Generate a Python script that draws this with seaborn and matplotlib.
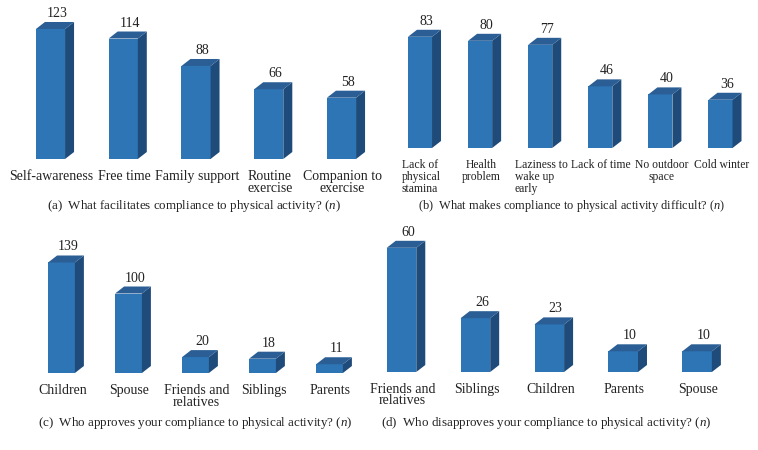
import matplotlib
matplotlib.use('Agg')
import matplotlib.pyplot as plt
from matplotlib.patches import Polygon
from matplotlib.transforms import IdentityTransform
import seaborn as sns
import pandas as pd

sns.set_style('white')
plt.rcParams['font.family'] = ['Liberation Serif', 'DejaVu Serif']
plt.rcParams['mathtext.fontset'] = 'custom'
plt.rcParams['mathtext.rm'] = 'Liberation Serif'
plt.rcParams['mathtext.it'] = 'Liberation Serif:italic'

# data
cats_a = ['Self-awareness', 'Free time', 'Family support', 'Routine\nexercise', 'Companion to\nexercise']
vals_a = [123, 114, 88, 66, 58]

cats_b = ['Lack of\nphysical\nstamina', 'Health\nproblem', 'Laziness to\nwake up\nearly',
          'Lack of time', 'No outdoor\nspace', 'Cold winter']
vals_b = [83, 80, 77, 46, 40, 36]

cats_c = ['Children', 'Spouse', 'Friends and\nrelatives', 'Siblings', 'Parents']
vals_c = [139, 100, 20, 18, 11]

cats_d = ['Friends and\nrelatives', 'Siblings', 'Children', 'Parents', 'Spouse']
vals_d = [60, 26, 23, 10, 10]

captions = [
    '(a)  What facilitates compliance to physical activity? ($n$)',
    '(b)  What makes compliance to physical activity difficult? ($n$)',
    '(c)  Who approves your compliance to physical activity? ($n$)',
    '(d)  Who disapproves your compliance to physical activity? ($n$)',
]

W, H = 758, 450
FRONT = '#2E75B6'
TOP = '#2A5E95'
SIDE = '#1F4B7A'
TXT = '#222222'
DX, DY = 9, 7

fig = plt.figure(figsize=(W / 100, H / 100), dpi=100)


def panel(cats, vals, c0, step, base, scale, width, label_gap, caption, cap_xy,
          label_fs=10, label_ls=0.85, cap_fs=9.4, left_align=()):
    n = len(cats)
    ymax = max(vals)
    ax = fig.add_axes([(c0 - step / 2) / W, (H - base) / H, step * n / W, ymax * scale / H])
    df = pd.DataFrame({'cat': range(n), 'val': vals})
    sns.barplot(data=df, x='cat', y='val', ax=ax, color=FRONT, saturation=1,
                width=width, edgecolor='none', linewidth=0)
    ax.set_xlim(-0.5, n - 0.5)
    ax.set_ylim(0, ymax)
    ax.axis('off')

    for i, p in enumerate(ax.patches):
        x0, x1, h = p.get_x(), p.get_x() + p.get_width(), p.get_height()
        (X0, Y0), (X1, Y1) = ax.transData.transform([(x0, 0), (x1, h)])
        side = Polygon([(X1, Y0), (X1 + DX, Y0 + DY), (X1 + DX, Y1 + DY), (X1, Y1)],
                       closed=True, facecolor=SIDE, edgecolor='none',
                       transform=IdentityTransform(), clip_on=False)
        top = Polygon([(X0, Y1), (X1, Y1), (X1 + DX, Y1 + DY), (X0 + DX, Y1 + DY)],
                      closed=True, facecolor=TOP, edgecolor='none',
                      transform=IdentityTransform(), clip_on=False)
        fig.add_artist(side)
        fig.add_artist(top)
        ax.annotate(str(vals[i]), xy=((x0 + x1) / 2, h), xytext=(DX / 2 + 2, DY + 5),
                    textcoords='offset pixels', ha='center', va='baseline',
                    fontsize=10, color=TXT)
        ax.annotate(cats[i], xy=(i, 0), xytext=(1, -label_gap), textcoords='offset pixels',
                    ha='center', va='top', fontsize=label_fs, color=TXT, linespacing=label_ls,
                    multialignment='left' if i in left_align else 'center',
                    annotation_clip=False)

    fig.text(cap_xy[0] / W, 1 - cap_xy[1] / H, caption, ha='center', va='center',
             fontsize=cap_fs, color=TXT)


panel(cats_a, vals_a, 50.5, 72.75, 159, 1.057, 0.4, 11, captions[0], (194, 206))
panel(cats_b, vals_b, 420, 60.1, 148, 1.34, 0.4, 11, captions[1], (571, 206),
      label_fs=8.4, label_ls=0.98, cap_fs=8.9, left_align=(0, 2))
panel(cats_c, vals_c, 61.5, 67, 373, 0.795, 0.4, 11, captions[2], (195, 423))
panel(cats_d, vals_d, 401.5, 73.9, 372, 2.07, 0.4, 11, captions[3], (546, 423))

fig.savefig('out.png', dpi=100, facecolor='white')
